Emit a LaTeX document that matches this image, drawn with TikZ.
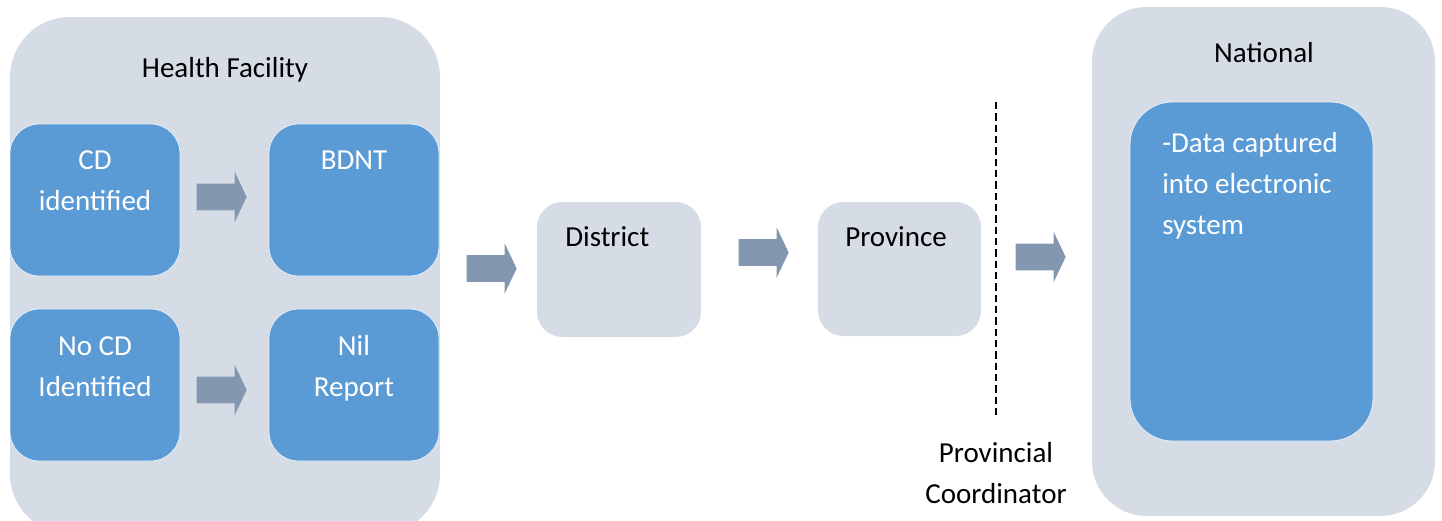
\documentclass[tikz,border=0pt]{standalone}
\usepackage{fontspec}
\setmainfont{Carlito}
\usetikzlibrary{shapes.arrows,fit,positioning}
\definecolor{paleblue}{HTML}{D6DCE5}
\definecolor{midblue}{HTML}{5B9BD5}
\definecolor{slateblue}{HTML}{8497B0}

\begin{document}
\begin{tikzpicture}[x=0.75pt,y=-0.75pt,
 outer/.style={fill=paleblue,inner sep=0pt},
 inner/.style={fill=midblue,draw=white!85!midblue,line width=0.6pt,inner sep=0pt},
 level/.style={fill=paleblue,inner sep=0pt,rounded corners=19pt},
 txt/.style={font=\fontsize{21.75}{30.75}\selectfont,inner sep=0pt,align=center},
 txtw/.style={txt,text=white},
 blockarr/.style={single arrow,fill=slateblue,inner xsep=0pt,inner ysep=9.75pt,
   minimum width=33.5pt,minimum height=37.5pt,
   single arrow head extend=9pt,single arrow tip angle=129},
 divider/.style={line width=1.5pt,dash pattern=on 5.5pt off 3pt}]
\useasboundingbox (0,0) rectangle (1442,521);
\clip (0,0) rectangle (1442,521);
% health facility
\node[outer,rounded corners=45pt,fit={(10,17)(440,534)}] (hf) {};
\node[txt,anchor=base] (hftxt) at (225,77) {Health Facility};
\node[inner,rounded corners=22pt,fit={(10,124)(180,276)}] (cd) {};
\node[inner,rounded corners=22pt,fit={(269,124)(439,276)}] (bdnt) {};
\node[inner,rounded corners=22pt,fit={(10,309)(180,461)}] (nocd) {};
\node[inner,rounded corners=22pt,fit={(269,309)(439,461)}] (nil) {};
\node[txtw,anchor=base] (cdtxt) at (95,210) {CD\\identified};
\node[txtw,anchor=base] (bdnttxt) at (354,169) {BDNT};
\node[txtw,anchor=base] (nocdtxt) at (95,396) {No CD\\Identified};
\node[txtw,anchor=base] (niltxt) at (354,396) {Nil\\Report};
\node[blockarr] (a1) at (218.5,197) {};
\node[blockarr] (a2) at (218.5,390) {};
% district and province
\node[level,fit={(537,202)(701,337)}] (district) {};
\node[txt,anchor=base west] (districttxt) at (565,246) {District};
\node[level,fit={(818,202)(981,336)}] (province) {};
\node[txt,anchor=base west] (provincetxt) at (845,246) {Province};
\node[blockarr] (a3) at (488.5,268.5) {};
\node[blockarr] (a4) at (760.5,252.5) {};
\node[blockarr] (a5) at (1037.5,257) {};
% provincial coordinator
\coordinate (dtop) at (995.5,102);
\coordinate (dbot) at (995.5,418);
\draw[divider] (dtop) -- (dbot);
\node[txt,anchor=base] (coord) at (996,503) {Provincial\\Coordinator};
% national
\node[outer,rounded corners=41pt,fit={(1092,7)(1435,516)}] (national) {};
\node[txt,anchor=base] (nationaltxt) at (1264,62) {National};
\node[inner,rounded corners=32pt,fit={(1130,102)(1373,441)}] (system) {};
\node[txtw,align=left,anchor=base west] (systemtxt) at (1162,234) {-Data captured\\into electronic\\system};
\end{tikzpicture}
\end{document}
